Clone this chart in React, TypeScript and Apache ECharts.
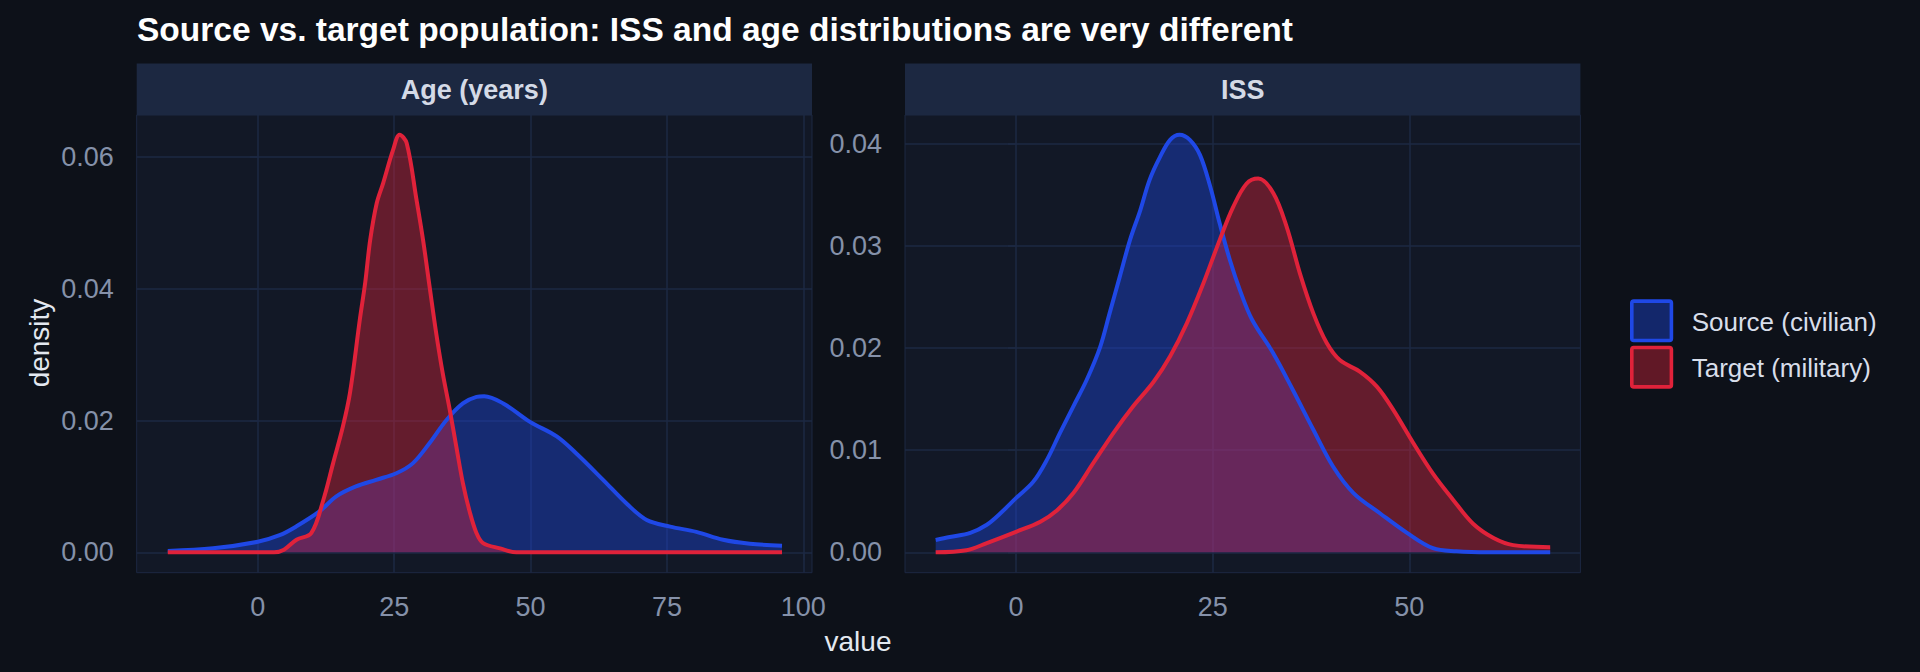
import React, { useEffect, useRef } from "react";
import * as echarts from "echarts";

const titleText = "Source vs. target population: ISS and age distributions are very different";
const panelTitles = ["Age (years)", "ISS"];
const seriesNames = ["Source (civilian)", "Target (military)"];

const ageSourceX = [-16.5, -8.2, 0, 4, 7, 11.3, 14.4, 18, 21.7, 25.4, 28.4, 31.5, 34.6, 37.6, 40.1, 41.5, 45, 49.9, 54.8, 58.4, 63.3, 67.6, 71.3, 75.6, 80.4, 85.3, 90.2, 96.1];
const ageSourceY = [0.0002, 0.0006, 0.0016, 0.0026, 0.0039, 0.0062, 0.0085, 0.01, 0.011, 0.012, 0.0135, 0.0166, 0.0201, 0.0226, 0.0236, 0.0237, 0.0226, 0.0198, 0.0176, 0.015, 0.011, 0.0074, 0.0049, 0.0039, 0.0031, 0.0019, 0.0013, 0.001];

const ageTargetX = [-16.5, 0, 3, 4.8, 7.1, 9.8, 12.0, 13.8, 15.6, 16.9, 18.7, 19.7, 20.6, 21.8, 23.0, 24.8, 26.0, 27.3, 29.1, 30.3, 31.5, 32.7, 33.9, 35.2, 36.4, 37.6, 38.8, 40.1, 41.3, 44.4, 47.4, 60, 96.1];
const ageTargetY = [0, 0, 0, 0.0004, 0.0019, 0.0029, 0.0079, 0.0135, 0.0191, 0.0242, 0.0353, 0.041, 0.0474, 0.053, 0.0561, 0.0611, 0.0634, 0.0621, 0.0535, 0.0474, 0.0403, 0.0333, 0.0272, 0.0216, 0.016, 0.0105, 0.0063, 0.0029, 0.0014, 0.0006, 0, 0, 0];

const issSourceX = [-10.2, -8.4, -5.8, -3.7, -2.0, 0, 2.2, 3.9, 5.6, 7.3, 9.0, 10.7, 11.9, 13.2, 14.5, 15.8, 17.0, 18.3, 19.6, 20.8, 22.1, 23.4, 24.7, 25.9, 27.2, 28.5, 30.0, 32.7, 35.2, 37.8, 40.3, 42.9, 46.3, 49.7, 53.0, 56.0, 60, 67.9];
const issSourceY = [0.0012, 0.0015, 0.0019, 0.0027, 0.0038, 0.0053, 0.0069, 0.009, 0.0117, 0.0143, 0.0169, 0.0201, 0.0234, 0.027, 0.0306, 0.0335, 0.0365, 0.0387, 0.0404, 0.0409, 0.0404, 0.0389, 0.0358, 0.0322, 0.0286, 0.0256, 0.0228, 0.0195, 0.0159, 0.012, 0.0084, 0.0058, 0.0038, 0.0019, 0.0004, 0.0001, 0, 0];

const issTargetX = [-10.2, -6.3, -3.7, 0, 3.1, 5.2, 7.3, 9.8, 12.4, 14.9, 17.5, 19.6, 21.7, 23.8, 25.9, 27.6, 29.3, 30.8, 32.7, 34.4, 36.1, 37.8, 39.5, 41.2, 43.7, 45.9, 48.0, 50.5, 53.0, 55.6, 58.1, 60.7, 63.2, 67.9];
const issTargetY = [0, 0.0002, 0.0009, 0.002, 0.003, 0.0041, 0.0058, 0.0087, 0.0117, 0.0143, 0.0167, 0.0192, 0.0224, 0.0263, 0.0306, 0.0338, 0.0361, 0.0366, 0.0352, 0.0319, 0.0273, 0.0234, 0.0205, 0.0188, 0.0177, 0.0162, 0.0139, 0.0107, 0.0077, 0.0051, 0.0028, 0.0014, 0.0007, 0.0005];

const ageXTicks = [0, 25, 50, 75, 100];
const ageYTicks = [0, 0.02, 0.04, 0.06];
const issXTicks = [0, 25, 50];
const issYTicks = [0, 0.01, 0.02, 0.03, 0.04];

const FONT = "'Liberation Sans', Arial, Helvetica, sans-serif";
const BG = "#0d1119";
const PANEL = "#121826";
const GRIDC = "#1d2843";
const STRIP = "#1c2841";
const TICKC = "#8591a9";
const BLUE = "#1f48e6";
const RED = "#e0223a";

const pairs = (xs: number[], ys: number[]) => xs.map((x, i) => [x, ys[i]]);

const panels = [
  { left: 136.7, width: 675.3, xMin: -22.2, xMax: 101.6, yMin: -0.0031, yMax: 0.0664, xTicks: ageXTicks, yTicks: ageYTicks },
  { left: 905, width: 675.4, xMin: -14.1, xMax: 71.74, yMin: -0.002, yMax: 0.04283, xTicks: issXTicks, yTicks: issYTicks },
];
const TOP = 115;
const HEIGHT = 457.7;

export default function App() {
  const ref = useRef<HTMLDivElement>(null);
  useEffect(() => {
    document.body.style.margin = "0";
    document.body.style.background = BG;
    if (!ref.current) return;
    const chart = echarts.init(ref.current, null, { renderer: "svg" });

    const grid = panels.map((p) => ({
      left: p.left,
      top: TOP,
      width: p.width,
      height: HEIGHT,
      show: true,
      backgroundColor: PANEL,
      borderColor: GRIDC,
      borderWidth: 1,
      containLabel: false,
      outerBoundsMode: "none",
    }));

    const xAxis = panels.map((p, i) => ({
      type: "value",
      gridIndex: i,
      min: p.xMin,
      max: p.xMax,
      axisLine: { show: false },
      axisTick: { show: true, inside: false, length: 8, lineStyle: { color: GRIDC, width: 1.5 }, customValues: p.xTicks },
      axisLabel: {
        show: true,
        margin: 21,
        color: TICKC,
        fontSize: 27,
        fontFamily: FONT,
        customValues: p.xTicks,
        formatter: (v: number) => String(v),
      },
      splitLine: { show: true, lineStyle: { color: GRIDC, width: 1.5 } },
    }));

    const yAxis = panels.map((p, i) => ({
      type: "value",
      gridIndex: i,
      min: p.yMin,
      max: p.yMax,
      axisLine: { show: false },
      axisTick: { show: true, inside: false, length: 8, lineStyle: { color: GRIDC, width: 1.5 }, customValues: p.yTicks },
      axisLabel: {
        show: true,
        margin: 23,
        color: TICKC,
        fontSize: 27,
        fontFamily: FONT,
        customValues: p.yTicks,
        formatter: (v: number) => v.toFixed(2),
      },
      splitLine: { show: true, lineStyle: { color: GRIDC, width: 1.5 } },
    }));

    const mk = (name: string, data: number[][], color: string, idx: number) => ({
      type: "line",
      name,
      xAxisIndex: idx,
      yAxisIndex: idx,
      data,
      smooth: 0.35,
      showSymbol: false,
      symbol: "none",
      silent: true,
      lineStyle: { color, width: 4 },
      itemStyle: { color },
      areaStyle: { color, opacity: 0.4 },
    });

    const series = [
      mk(seriesNames[0], pairs(ageSourceX, ageSourceY), BLUE, 0),
      mk(seriesNames[1], pairs(ageTargetX, ageTargetY), RED, 0),
      mk(seriesNames[0], pairs(issSourceX, issSourceY), BLUE, 1),
      mk(seriesNames[1], pairs(issTargetX, issTargetY), RED, 1),
    ];

    const graphic: any[] = [
      {
        type: "text",
        x: 137,
        y: 29.5,
        style: { text: titleText, fill: "#ffffff", font: `bold 33.5px ${FONT}`, verticalAlign: "middle" },
      },
      {
        type: "text",
        x: 39,
        y: 343,
        rotation: Math.PI / 2,
        style: { text: "density", fill: "#e3e8f0", font: `28px ${FONT}`, align: "center", verticalAlign: "middle" },
      },
      {
        type: "text",
        x: 858,
        y: 641.7,
        style: { text: "value", fill: "#e3e8f0", font: `28px ${FONT}`, align: "center", verticalAlign: "middle" },
      },
    ];
    panels.forEach((p, i) => {
      graphic.push({
        type: "rect",
        shape: { x: p.left, y: 63.4, width: p.width, height: TOP - 63.4 },
        style: { fill: STRIP },
      });
      graphic.push({
        type: "text",
        x: p.left + p.width / 2,
        y: 89.5,
        style: { text: panelTitles[i], fill: "#d4dae6", font: `bold 27px ${FONT}`, align: "center", verticalAlign: "middle" },
      });
    });
    [BLUE, RED].forEach((c, i) => {
      const y0 = 299.3 + i * 46.4;
      graphic.push({
        type: "rect",
        shape: { x: 1631.8, y: y0 + 1.8, width: 39.6, height: 39.4, r: 2 },
        style: { fill: echarts.color.modifyAlpha(c, 0.4), stroke: c, lineWidth: 3.6 },
      });
      graphic.push({
        type: "text",
        x: 1691.7,
        y: y0 + 22.5,
        style: { text: seriesNames[i], fill: "#d8deea", font: `26px ${FONT}`, verticalAlign: "middle" },
      });
    });

    chart.setOption({
      animation: false,
      backgroundColor: BG,
      grid,
      xAxis,
      yAxis,
      series,
      graphic,
    } as any);

    return () => chart.dispose();
  }, []);

  return <div ref={ref} style={{ width: 1920, height: 672 }} />;
}
